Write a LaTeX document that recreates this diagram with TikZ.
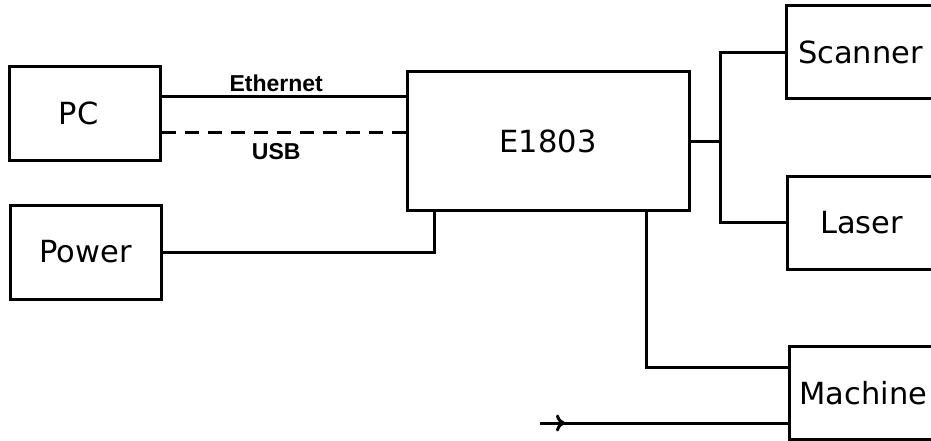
\documentclass[tikz,border=0pt]{standalone}
\usepackage{fontspec}
\newfontfamily\boxfont{DejaVu Sans}
\newfontfamily\linkfont{Liberation Sans}
\usepackage{tikz}
\usetikzlibrary{positioning,arrows.meta,calc}

\begin{document}
\begin{tikzpicture}[x=1pt, y=-1pt,
  unit/.style={draw, line width=3pt, minimum width=151pt, minimum height=93pt,
               font=\boxfont\fontsize{30.5}{36}\selectfont, inner sep=0pt},
  periph/.style={unit, minimum width=148pt, anchor=west},
  wire/.style={line width=3pt},
  lbl/.style={font=\linkfont\bfseries\fontsize{23}{27}\selectfont, inner sep=4pt}]
\clip (0,0) rectangle (931,441);
\node[unit] (pc) at (84.5,113.5) {PC\hspace*{12pt}};
\node[unit, minimum height=94pt] (power) at (85.5,252) {Power};
\node[unit, minimum width=282pt, minimum height=138pt] (ctrl) at (548,141) {E1803};
\node[periph] (scanner) at (785,52.5) {Scanner};
\node[periph] (laser) at (786,222.5) {Laser};
\node[periph] (machine) at (788,393) {Machine};
% host links
\draw[wire] ([yshift=16.5pt]pc.east) coordinate (eth) -- (eth -| ctrl.west)
  node[lbl, pos=0.47, above] {Ethernet};
\draw[wire, dash pattern=on 14pt off 9pt] ([yshift=-19.5pt]pc.east) coordinate (usb) -- (usb -| ctrl.west)
  node[lbl, pos=0.47, below, yshift=-5pt] {USB};
\draw[wire] (power.east) -| ($(ctrl.south west)!0.1!(ctrl.south east)$);
% outputs
\draw[wire] (ctrl.east) -- ++(30,0) coordinate (hub);
\draw[wire] (scanner.west) -| (hub) |- (laser.west);
\draw[wire] ($(ctrl.south west)!0.844!(ctrl.south east)$) |- ([yshift=26pt]machine.west);
\coordinate (feed) at (540,423);
\draw[wire] (feed) -- (feed -| machine.west);
\draw[wire, -{To[length=9pt, width=17pt]}] (feed) -- ++(25,0);
\end{tikzpicture}
\end{document}
